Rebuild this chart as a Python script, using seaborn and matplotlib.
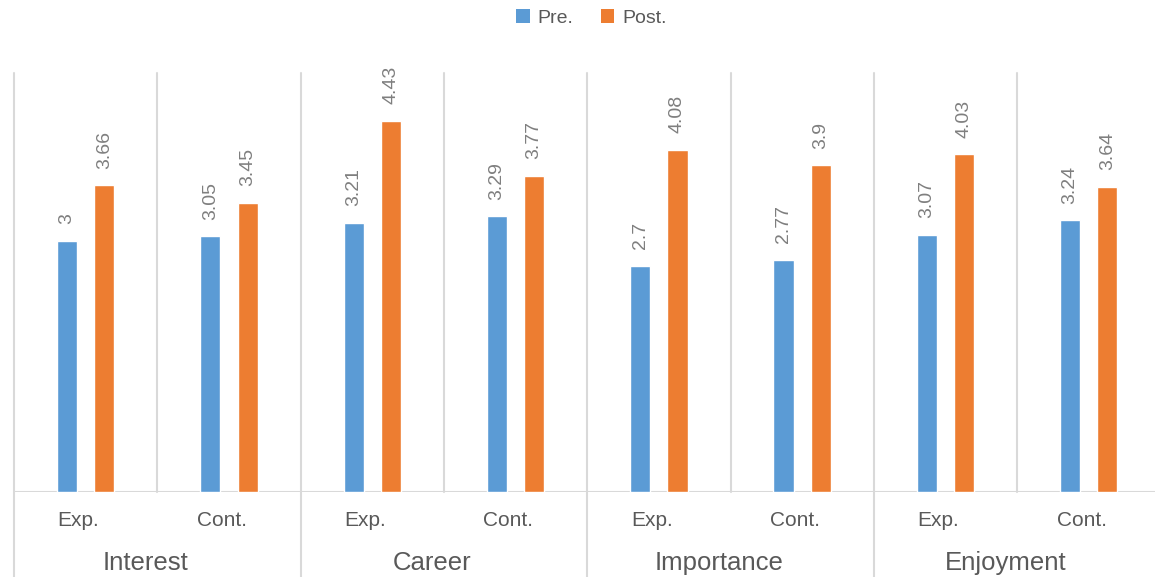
import matplotlib
matplotlib.use("Agg")
import matplotlib.pyplot as plt
from matplotlib.patches import Patch
import seaborn as sns
import pandas as pd

categories = ["Interest", "Career", "Importance", "Enjoyment"]
groups = ["Exp.", "Cont."]
series = ["Pre.", "Post."]
pre_values = [3.00, 3.05, 3.21, 3.29, 2.70, 2.77, 3.07, 3.24]
post_values = [3.66, 3.45, 4.43, 3.77, 4.08, 3.90, 4.03, 3.64]

colors = {"Pre.": "#5B9BD5", "Post.": "#ED7D31"}
grid_c = "#D9D9D9"
text_c = "#595959"
label_c = "#7F7F7F"

keys = [f"{c}|{g}" for c in categories for g in groups]
rows = []
for k, pv, qv in zip(keys, pre_values, post_values):
    rows.append({"key": k, "phase": "Pre.", "value": pv})
    rows.append({"key": k, "phase": "Post.", "value": qv})
df = pd.DataFrame(rows)

sns.set_theme(style="white")
plt.rcParams["font.family"] = ["Liberation Sans", "DejaVu Sans"]

W, H = 1155, 577
fig = plt.figure(figsize=(W / 100, H / 100), dpi=100)
left_px, right_px, top_px, base_px = 14, 1155, 73, 492
ax = fig.add_axes([left_px / W, (H - base_px) / H, (right_px - left_px) / W, (base_px - top_px) / H])

sns.barplot(data=df, x="key", y="value", hue="phase", order=keys, hue_order=series,
            palette=colors, width=0.52, gap=0.46, ax=ax, legend=False,
            errorbar=None, saturation=1)

grp_w = 143.3
xmax = -0.5 + (right_px - left_px) / grp_w
ax.set_xlim(-0.5, xmax)
ax.set_ylim(0, 5)

for c in ax.containers:
    ax.bar_label(c, fmt="%g", rotation=90, padding=12, color=label_c, fontsize=14)

for s in ax.spines.values():
    s.set_visible(False)
ax.set_yticks([])
ax.set_ylabel("")
ax.set_xlabel("")

ext = (H - base_px) / (base_px - top_px)
trans = ax.get_xaxis_transform()
for i in range(len(keys) + 1):
    x = -0.5 + i
    if i % 2 == 0:
        ax.plot([x, x], [1, -ext], color=grid_c, lw=1.5, transform=trans, clip_on=False, zorder=0)
    else:
        ax.plot([x, x], [1, 0], color=grid_c, lw=1.5, transform=trans, clip_on=False, zorder=0)
ax.axhline(0, color=grid_c, lw=1.5, zorder=0)

ax.set_xticks([i - 0.05 for i in range(len(keys))])
ax.set_xticklabels([k.split("|")[1] for k in keys], fontsize=15, color=text_c)
ax.tick_params(axis="x", length=0, pad=14)

for j, cat in enumerate(categories):
    ax.text(2 * j + 0.5 - 0.08, -71 / (base_px - top_px), cat, transform=trans,
            ha="center", va="center", fontsize=18.5, color=text_c)

handles = [Patch(facecolor=colors[s], edgecolor="none", label=s) for s in series]
fig.legend(handles=handles, loc="center", bbox_to_anchor=(0.512, 1 - 18 / H), ncol=2,
           frameon=False, fontsize=14, labelcolor=text_c, handlelength=0.7,
           handleheight=0.7, handletextpad=0.4, columnspacing=1.4)

fig.savefig("out.png", dpi=100, facecolor="white")
